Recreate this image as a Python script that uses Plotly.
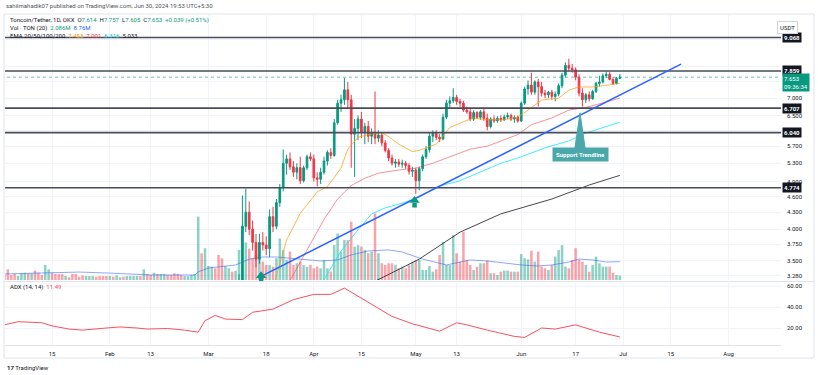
import math
import pandas as pd
import plotly.graph_objects as go

# ---------------- data ----------------
candle_start = "2024-03-10"
opens = [2.95, 3.15, 4.05, 4.30, 4.00, 3.78, 3.52, 3.78, 3.74, 3.68,
         4.22, 4.05, 4.48, 4.77, 5.30, 5.40, 5.22, 5.10, 5.20, 4.92,
         5.20, 5.45, 5.40, 4.98, 4.95, 5.10, 5.35, 5.55, 5.48, 6.30,
         6.85, 6.95, 7.25, 6.95, 6.00, 6.15, 6.40, 6.05, 6.20, 5.95,
         6.05, 5.90, 5.98, 5.78, 5.60, 5.42, 5.30, 5.33, 5.28, 5.30,
         5.25, 5.12, 5.15, 4.92, 5.18, 5.45, 5.62, 5.95, 6.02, 5.92,
         5.88, 6.45, 6.85, 6.92, 7.02, 6.90, 6.85, 6.65, 6.60, 6.40,
         6.58, 6.45, 6.60, 6.42, 6.20, 6.40, 6.35, 6.42, 6.38, 6.46,
         6.50, 6.40, 6.45, 6.35, 6.85, 7.28, 7.40, 7.18, 7.50, 7.35,
         7.15, 7.10, 7.18, 7.05, 7.12, 7.38, 7.72, 8.05, 7.95, 7.90,
         7.65, 7.15, 6.95, 7.10, 6.98, 7.20, 7.45, 7.50, 7.70, 7.75,
         7.58, 7.45, 7.614]
highs = [3.30, 4.62, 4.75, 4.50, 4.15, 3.92, 3.92, 3.95, 3.88, 4.35,
         4.40, 4.55, 4.85, 5.62, 5.50, 5.55, 5.35, 5.30, 5.45, 5.25,
         5.50, 5.55, 5.50, 5.10, 5.20, 5.45, 5.60, 5.65, 6.40, 6.95,
         7.10, 7.63, 7.50, 7.10, 6.40, 6.50, 6.60, 6.30, 6.35, 6.15,
         7.20, 6.10, 6.05, 5.85, 5.65, 5.50, 5.40, 5.40, 5.38, 5.35,
         5.30, 5.22, 5.20, 5.22, 5.50, 5.70, 6.05, 6.10, 6.10, 6.00,
         6.55, 6.95, 7.05, 7.30, 7.10, 6.98, 6.92, 6.75, 6.68, 6.65,
         6.62, 6.65, 6.70, 6.55, 6.45, 6.50, 6.48, 6.50, 6.52, 6.58,
         6.55, 6.50, 6.50, 6.90, 7.35, 7.55, 7.80, 7.55, 7.60, 7.50,
         7.25, 7.22, 7.25, 7.20, 7.45, 7.80, 8.15, 8.28, 8.10, 7.98,
         7.75, 7.30, 7.15, 7.20, 7.25, 7.50, 7.70, 7.78, 7.85, 7.82,
         7.65, 7.66, 7.757]
lows = [2.90, 3.10, 3.95, 3.90, 3.65, 3.40, 3.45, 3.65, 3.58, 3.55,
        3.95, 4.00, 4.40, 4.70, 5.05, 5.15, 5.00, 4.95, 4.85, 4.88,
        5.15, 5.35, 4.90, 4.80, 4.85, 5.05, 5.25, 5.40, 5.45, 6.25,
        6.60, 6.80, 6.70, 5.20, 5.00, 5.85, 5.90, 5.75, 5.80, 5.75,
        5.75, 5.80, 5.70, 5.55, 5.35, 5.25, 5.20, 5.22, 5.20, 5.18,
        5.05, 5.00, 4.65, 4.72, 5.12, 5.40, 5.55, 5.80, 5.85, 5.80,
        5.85, 6.40, 6.70, 6.85, 6.80, 6.72, 6.60, 6.55, 6.35, 6.35,
        6.40, 6.38, 6.35, 6.10, 6.15, 6.30, 6.30, 6.32, 6.35, 6.40,
        6.35, 6.30, 6.30, 6.32, 6.80, 7.10, 7.10, 7.10, 6.75, 7.05,
        7.00, 7.00, 6.95, 6.90, 7.05, 7.30, 7.65, 7.85, 7.80, 7.55,
        7.05, 6.75, 6.85, 6.90, 6.95, 7.15, 7.35, 7.45, 7.62, 7.55,
        7.40, 7.42, 7.605]
closes = [3.15, 4.05, 4.30, 4.00, 3.78, 3.52, 3.78, 3.74, 3.68, 4.22,
          4.05, 4.48, 4.77, 5.30, 5.40, 5.22, 5.10, 5.20, 4.92, 5.20,
          5.45, 5.40, 4.98, 4.95, 5.10, 5.35, 5.55, 5.48, 6.30, 6.85,
          6.95, 7.25, 6.95, 6.00, 6.15, 6.40, 6.05, 6.20, 5.95, 6.05,
          5.90, 5.98, 5.78, 5.60, 5.42, 5.30, 5.33, 5.28, 5.30, 5.25,
          5.12, 5.15, 4.92, 5.18, 5.45, 5.62, 5.95, 6.02, 5.92, 5.88,
          6.45, 6.85, 6.92, 7.02, 6.90, 6.85, 6.65, 6.60, 6.40, 6.58,
          6.45, 6.60, 6.42, 6.20, 6.40, 6.35, 6.42, 6.38, 6.46, 6.50,
          6.40, 6.45, 6.35, 6.85, 7.28, 7.40, 7.18, 7.50, 7.35, 7.15,
          7.10, 7.18, 7.05, 7.12, 7.38, 7.72, 8.05, 7.95, 7.90, 7.65,
          7.15, 6.95, 7.10, 6.98, 7.20, 7.45, 7.50, 7.70, 7.75, 7.58,
          7.45, 7.614, 7.653]

volume_start = "2024-01-01"
volume_m = [2.4, 5.1, 2.4, 2.9, 1.9, 3.2, 3.5, 3.2, 3.2, 4.5,
            3.5, 2.4, 7.2, 5.1, 3.5, 2.9, 2.9, 2.9, 1.9, 1.3,
            2.9, 2.9, 1.6, 2.2, 1.9, 1.9, 1.9, 1.6, 1.9, 1.9,
            1.9, 1.9, 1.6, 2.2, 1.3, 1.6, 1.9, 1.9, 1.9, 1.9,
            1.9, 5.1, 2.9, 2.4, 3.5, 2.9, 2.9, 2.9, 2.4, 2.4,
            3.2, 2.9, 2.4, 1.9, 1.9, 2.4, 2.9, 30.3, 12.8, 15.2,
            6.7, 6.4, 5.6, 12.0, 10.4, 6.7, 5.6, 4.0, 4.5,
            14.4, 26.0, 18.0, 15.0, 10.4, 12.0, 10.4, 8.8, 7.2, 7.2,
            6.4, 10.4, 19.9, 14.4, 9.6, 13.6, 7.2, 8.0, 8.8, 7.2,
            6.4, 7.2, 5.6, 6.4, 5.6, 9.6, 5.6, 4.0, 16.7, 22.3,
            13.6, 19.1, 19.1, 27.9, 16.0, 16.7, 16.0, 14.4, 12.8, 13.6,
            31.9, 12.8, 8.0, 7.2, 8.0, 8.0, 7.2, 5.6, 6.4, 5.6,
            7.2, 8.8, 9.6,
            9.6, 4.8, 4.8, 6.7, 4.0, 5.1, 12.0, 18.3, 7.2, 7.2,
            21.5, 12.8, 8.8, 23.1, 9.6, 7.2, 4.8, 6.4, 8.0, 8.0,
            9.3, 3.2, 3.2, 2.4, 4.0, 4.5, 4.5, 4.0, 4.0, 4.0,
            12.4, 10.4, 9.9, 14.0, 8.8, 13.6, 6.4, 5.6, 4.8, 7.2,
            11.2, 14.4, 16.7, 6.4, 5.6, 9.6, 15.2, 9.6, 8.8, 7.2,
            4.0, 7.2, 11.2, 8.0, 6.4, 6.4, 6.4, 3.5, 2.4, 2.086]
early_volume_up = [0, 0, 0, 0, 1, 1, 1, 0, 1, 0,
                   0, 0, 1, 1, 0, 0, 0, 0, 1, 0,
                   0, 0, 0, 0, 1, 1, 1, 0, 0, 0,
                   0, 1, 0, 1, 1, 0, 1, 1, 1, 1,
                   0, 1, 0, 0, 1, 0, 1, 1, 0, 0,
                   0, 0, 0, 1, 1, 1, 1, 1, 0, 1,
                   1, 1, 0, 0, 0, 1, 1, 0, 1]

ema20_dates = ["2024-03-20", "2024-03-24", "2024-03-28", "2024-04-02", "2024-04-05", "2024-04-09",
               "2024-04-11", "2024-04-14", "2024-04-17", "2024-04-21", "2024-04-23", "2024-04-26",
               "2024-04-30", "2024-05-02", "2024-05-07", "2024-05-11", "2024-05-15", "2024-05-18",
               "2024-05-22", "2024-05-27", "2024-05-31", "2024-06-03", "2024-06-07", "2024-06-12",
               "2024-06-15", "2024-06-18", "2024-06-22", "2024-06-27", "2024-06-30"]
ema20_vals = [3.12, 3.82, 4.28, 4.69, 4.80, 5.19, 5.63, 5.92, 5.99, 6.04, 5.94, 5.75, 5.57, 5.60,
              5.75, 6.17, 6.33, 6.43, 6.38, 6.38, 6.46, 6.65, 6.94, 7.00, 7.24, 7.34, 7.34, 7.40, 7.453]
ema50_dates = ["2024-03-24", "2024-03-30", "2024-04-04", "2024-04-08", "2024-04-12", "2024-04-16",
               "2024-04-20", "2024-04-26", "2024-05-01", "2024-05-06", "2024-05-12", "2024-05-17",
               "2024-05-22", "2024-05-26", "2024-05-31", "2024-06-04", "2024-06-10", "2024-06-15",
               "2024-06-20", "2024-06-26", "2024-06-30"]
ema50_vals = [3.13, 3.66, 4.17, 4.55, 4.82, 4.97, 5.08, 5.15, 5.19, 5.30, 5.48, 5.63, 5.70, 5.82,
              5.99, 6.25, 6.43, 6.65, 6.73, 6.88, 7.001]
ema100_dates = ["2024-04-03", "2024-04-09", "2024-04-14", "2024-04-18", "2024-04-22", "2024-04-28",
                "2024-05-02", "2024-05-08", "2024-05-14", "2024-05-26", "2024-05-31", "2024-06-08",
                "2024-06-15", "2024-06-20", "2024-06-30"]
ema100_vals = [3.15, 3.64, 3.99, 4.27, 4.38, 4.49, 4.59, 4.81, 4.92, 5.30, 5.42, 5.66, 5.83, 6.03, 6.316]
ema200_dates = ["2024-04-18", "2024-05-02", "2024-05-14", "2024-05-26", "2024-06-10", "2024-06-21", "2024-06-30"]
ema200_vals = [3.18, 3.52, 3.95, 4.27, 4.55, 4.83, 5.033]

volma_dates = ["2024-01-01", "2024-01-11", "2024-01-17", "2024-01-23", "2024-02-01", "2024-02-13",
               "2024-02-26", "2024-02-27", "2024-03-01", "2024-03-09", "2024-03-13", "2024-03-17",
               "2024-03-21", "2024-03-29", "2024-04-03", "2024-04-08", "2024-04-12", "2024-04-17",
               "2024-04-23", "2024-04-27", "2024-05-03", "2024-05-10", "2024-05-14", "2024-05-17",
               "2024-05-22", "2024-05-27", "2024-06-01", "2024-06-06", "2024-06-10", "2024-06-15",
               "2024-06-18", "2024-06-22", "2024-06-26", "2024-06-30"]
volma_vals = [2.9, 3.3, 3.8, 3.8, 3.3, 2.4, 2.4, 3.9, 5.7, 7.2, 10.0, 11.0, 11.0, 10.0, 9.1, 9.6,
              12.0, 13.9, 14.4, 13.4, 10.0, 7.2, 8.6, 9.6, 9.1, 8.1, 7.2, 6.7, 7.2, 8.6, 10.0, 9.6,
              8.6, 8.76]

adx_dates = ["2024-01-01", "2024-01-05", "2024-01-12", "2024-01-15", "2024-01-20", "2024-01-24",
             "2024-01-31", "2024-02-04", "2024-02-09", "2024-02-12", "2024-02-18", "2024-02-23",
             "2024-02-27", "2024-02-29", "2024-03-03", "2024-03-06", "2024-03-11", "2024-03-14",
             "2024-03-20", "2024-03-26", "2024-04-01", "2024-04-06", "2024-04-10", "2024-04-18",
             "2024-04-24", "2024-04-30", "2024-05-08", "2024-05-13", "2024-05-16", "2024-05-22",
             "2024-05-30", "2024-06-02", "2024-06-07", "2024-06-11", "2024-06-17", "2024-06-24",
             "2024-06-30"]
adx_vals = [23, 26, 25, 22, 19, 18, 20, 21, 20, 19, 19.5, 18, 16, 27, 32, 28.5, 28, 35, 38, 47,
            52, 52, 58, 43, 31, 24, 17, 25, 23, 18, 12, 11, 20, 19, 23, 16, 11.49]

levels = [9.068, 7.859, 6.707, 6.040, 4.774]
trend_dates = ["2024-03-15 14:00", "2024-07-18 00:00"]
trend_prices = [3.25, 8.09]
arrow_dates = ["2024-03-16 12:00", "2024-04-30 15:00"]
arrow_head_prices = [3.28, 4.52]
arrow_stem_prices = [3.23, 4.43]
callout_dates = ["2024-06-16 19:00", "2024-06-18 07:00", "2024-06-19 19:00"]
callout_prices = [5.65, 6.57, 5.65]
callout_label_date = "2024-06-18 07:00"
callout_label_price = 5.50
countdown = "09:36:34"

date_ticks = ["2024-01-15", "2024-02-01", "2024-02-13", "2024-03-01", "2024-03-18", "2024-04-01",
              "2024-04-15", "2024-05-01", "2024-05-13", "2024-06-01", "2024-06-17", "2024-07-01",
              "2024-07-15", "2024-08-01"]
date_labels = ["15", "Feb", "13", "Mar", "18", "Apr", "15", "May", "13", "Jun", "17", "Jul", "15", "Aug"]
price_ticks = [3.28, 3.5, 3.75, 4.0, 4.3, 4.6, 4.9, 5.3, 5.7, 6.1, 6.5, 7.0, 7.5, 8.0, 9.0]
hidden_price_ticks = [6.1, 7.5, 8.0, 9.0]   # covered by the level labels in the original
adx_ticks = [20, 40, 60]

# ---------------- styling ----------------
UP = "#089981"
DOWN = "#F23645"
GRID = "#f0f3fa"
TXT = "#50535e"
FONT = "Roboto"
W, H = 818, 375
ML, MR, MT, MB = 5, 37, 15, 30
PW, PH = W - ML - MR, H - MT - MB


def px(xp):
    return (xp - ML) / PW


def py(yp):
    return (H - MB - yp) / PH


candle_dates = pd.date_range(candle_start, periods=len(closes), freq="D")
vol_dates = pd.date_range(volume_start, periods=len(volume_m), freq="D")
n_early = len(early_volume_up)
vol_colors = []
for i in range(len(volume_m)):
    if i < n_early:
        up = early_volume_up[i] == 1
    else:
        j = i - n_early
        up = closes[j] >= opens[j] if j < len(closes) else True
    vol_colors.append("rgba(8,153,129,0.45)" if up else "rgba(242,54,69,0.45)")

far_left, far_right = "2023-12-01", "2024-09-30"

fig = go.Figure()

# volume (base axis of the main pane)
fig.add_trace(go.Bar(x=vol_dates, y=volume_m, marker=dict(color=vol_colors, line=dict(width=0)),
                     width=0.75 * 86400000, xaxis="x", yaxis="y"))
fig.add_trace(go.Scatter(x=volma_dates, y=volma_vals, mode="lines",
                         line=dict(color="rgba(41,98,255,0.55)", width=1), xaxis="x", yaxis="y"))

# EMAs
for d, v, c in [(ema200_dates, ema200_vals, "rgba(40,40,40,0.85)"),
                (ema100_dates, ema100_vals, "rgba(0,229,255,0.75)"),
                (ema50_dates, ema50_vals, "rgba(242,54,69,0.55)"),
                (ema20_dates, ema20_vals, "rgba(255,152,0,0.7)")]:
    fig.add_trace(go.Scatter(x=d, y=v, mode="lines", line=dict(color=c, width=1),
                             xaxis="x", yaxis="y3"))

# horizontal levels
for lv in levels:
    fig.add_trace(go.Scatter(x=[far_left, far_right], y=[lv, lv], mode="lines",
                             line=dict(color="#4a4d57", width=1.6), xaxis="x", yaxis="y3"))
# current price dotted line
fig.add_trace(go.Scatter(x=[far_left, far_right], y=[closes[-1], closes[-1]], mode="lines",
                         line=dict(color="rgba(8,153,129,0.6)", width=1, dash="dot"),
                         xaxis="x", yaxis="y3"))

# candles
fig.add_trace(go.Candlestick(x=candle_dates, open=opens, high=highs, low=lows, close=closes,
                             increasing=dict(line=dict(color=UP, width=1), fillcolor=UP),
                             decreasing=dict(line=dict(color=DOWN, width=1), fillcolor=DOWN),
                             whiskerwidth=0, xaxis="x", yaxis="y3"))

# trendline
fig.add_trace(go.Scatter(x=trend_dates, y=trend_prices, mode="lines",
                         line=dict(color="#2962FF", width=1.5), xaxis="x", yaxis="y3"))

# arrows
fig.add_trace(go.Scatter(x=arrow_dates, y=arrow_stem_prices, mode="markers", cliponaxis=False,
                         marker=dict(symbol="square", size=4.5, color=UP), xaxis="x", yaxis="y3"))
fig.add_trace(go.Scatter(x=arrow_dates, y=arrow_head_prices, mode="markers", cliponaxis=False,
                         marker=dict(symbol="triangle-up", size=9, color=UP), xaxis="x", yaxis="y3"))

# callout pointer
fig.add_trace(go.Scatter(x=callout_dates + callout_dates[:1], y=callout_prices + callout_prices[:1],
                         mode="lines", fill="toself", fillcolor="#4aa7aa",
                         line=dict(color="#4aa7aa", width=1), xaxis="x", yaxis="y3"))

# ADX
fig.add_trace(go.Scatter(x=adx_dates, y=adx_vals, mode="lines",
                         line=dict(color="#F7525F", width=1), xaxis="x2", yaxis="y2"))

xrange = ["2024-01-01 04:13", "2024-08-16 09:36"]
vol_top = 265 / 2.09
price_lo, price_hi = 3.22, 9.98

fig.update_layout(
    width=W, height=H, margin=dict(l=ML, r=MR, t=MT, b=MB),
    paper_bgcolor="white", plot_bgcolor="white", showlegend=False,
    font=dict(family=FONT, size=6, color=TXT),
    xaxis=dict(type="date", range=xrange, domain=[0, 1], anchor="y",
               tickvals=date_ticks, ticktext=date_labels, showticklabels=False,
               showgrid=True, gridcolor=GRID, gridwidth=1, zeroline=False,
               rangeslider=dict(visible=False), matches="x2"),
    xaxis2=dict(type="date", range=xrange, domain=[0, 1], anchor="y2",
                tickvals=date_ticks, ticktext=date_labels, showticklabels=True,
                tickfont=dict(size=6, color="#131722"), ticks="", ticklabelstandoff=3,
                showgrid=True, gridcolor=GRID, gridwidth=1, zeroline=False,
                showline=True, linecolor="#e0e3eb", linewidth=1),
    yaxis=dict(domain=[65 / PH, 1], range=[0, vol_top], visible=False, showgrid=False,
               fixedrange=True),
    yaxis3=dict(type="log", overlaying="y", side="right", anchor="x",
                range=[math.log10(price_lo), math.log10(price_hi)],
                tickvals=price_ticks,
                ticktext=["" if t in hidden_price_ticks else f"{t:.3f}" for t in price_ticks],
                tickfont=dict(size=6, color="#131722"), ticks="", ticklabelstandoff=5,
                showgrid=True, gridcolor=GRID, zeroline=False),
    yaxis2=dict(domain=[0, 62 / PH], range=[3.81, 62.86], side="right", anchor="x2",
                tickvals=adx_ticks, ticktext=[f"{t:.2f}" for t in adx_ticks],
                tickfont=dict(size=6, color="#131722"), ticks="", ticklabelstandoff=5,
                showgrid=True, gridcolor=GRID, zeroline=False),
)

ann = []
# level labels
for lv in levels:
    ann.append(dict(xref="paper", yref="y3", x=1.0, y=math.log10(lv), xanchor="left", yanchor="middle",
                    xshift=1, text=f"<b>{lv:.3f}</b>", showarrow=False, bgcolor="#131722",
                    font=dict(color="white", size=6), borderpad=1))
# current price label
ann.append(dict(xref="paper", yref="y3", x=1.0, y=math.log10(closes[-1]), xanchor="left", yanchor="top",
                xshift=1, yshift=4, text=f"{closes[-1]:.3f}<br>{countdown}", showarrow=False, bgcolor=UP,
                font=dict(color="white", size=6), borderpad=1, align="left"))
# callout label
ann.append(dict(xref="x", yref="y3", x=callout_label_date, y=math.log10(callout_label_price),
                text="<b>Support Trendline</b>", showarrow=False, bgcolor="#4aa7aa",
                font=dict(color="white", size=6), borderpad=3))
# USDT
ann.append(dict(xref="paper", yref="paper", x=px(798), y=py(20.5), text="USDT", showarrow=False,
                bgcolor="white", bordercolor="#d1d4dc", borderwidth=1, borderpad=2,
                font=dict(size=6, color="#131722")))
# header
ann.append(dict(xref="paper", yref="paper", x=px(4), y=py(6), xanchor="left", yanchor="middle",
                text="sahilmahadik07 published on TradingView.com, Jun 30, 2024 19:53 UTC+5:30",
                showarrow=False, font=dict(size=6, color=TXT)))
chg = closes[-1] - closes[-2]
pct = chg / closes[-2] * 100
g = lambda s: f'<span style="color:{UP}">{s}</span>'
line1 = (f"Toncoin/Tether, 1D, OKX  O{g(f'{opens[-1]:.3f}')}  H{g(f'{highs[-1]:.3f}')}  "
         f"L{g(f'{lows[-1]:.3f}')}  C{g(f'{closes[-1]:.3f}')}  {g(f'+{chg:.3f} (+{pct:.2f}%)')}")
line2 = (f"Vol · TON (20)  {g(f'{volume_m[-1]:.3f}M')}  "
         f'<span style="color:#2962FF">{volma_vals[-1]:.2f}M</span>')
line3 = (f"EMA 20/50/100/200  <span style=\"color:#FF9800\">{ema20_vals[-1]:.3f}</span>  "
         f"<span style=\"color:#F23645\">{ema50_vals[-1]:.3f}</span>  "
         f"<span style=\"color:#00BCD4\">{ema100_vals[-1]:.3f}</span>  "
         f"<span style=\"color:#131722\">{ema200_vals[-1]:.3f}</span>")
for t, yp in [(line1, 20), (line2, 28), (line3, 36)]:
    ann.append(dict(xref="paper", yref="paper", x=px(8), y=py(yp), xanchor="left", yanchor="middle",
                    text=t, showarrow=False, font=dict(size=6, color="#131722")))
ann.append(dict(xref="paper", yref="paper", x=px(8), y=py(287), xanchor="left", yanchor="middle",
                text=f'ADX (14, 14)  <span style="color:#F7525F">{adx_vals[-1]:.2f}</span>',
                showarrow=False, font=dict(size=6, color="#131722")))
ann.append(dict(xref="paper", yref="paper", x=px(5), y=py(367), xanchor="left", yanchor="middle",
                text="<b>17</b> TradingView", showarrow=False, font=dict(size=6, color="#131722")))
fig.update_layout(annotations=ann)

shapes = [
    dict(type="rect", xref="paper", yref="paper", x0=px(4), x1=px(814), y0=py(358), y1=py(14),
         line=dict(color="#e0e3eb", width=1)),
    dict(type="line", xref="paper", yref="paper", x0=px(4), x1=px(814), y0=py(281.5), y1=py(281.5),
         line=dict(color="#e0e3eb", width=1)),
]
fig.update_layout(shapes=shapes)

fig.write_html("out.html", config={"displayModeBar": False},
               post_script="document.body.style.margin='0px';")
